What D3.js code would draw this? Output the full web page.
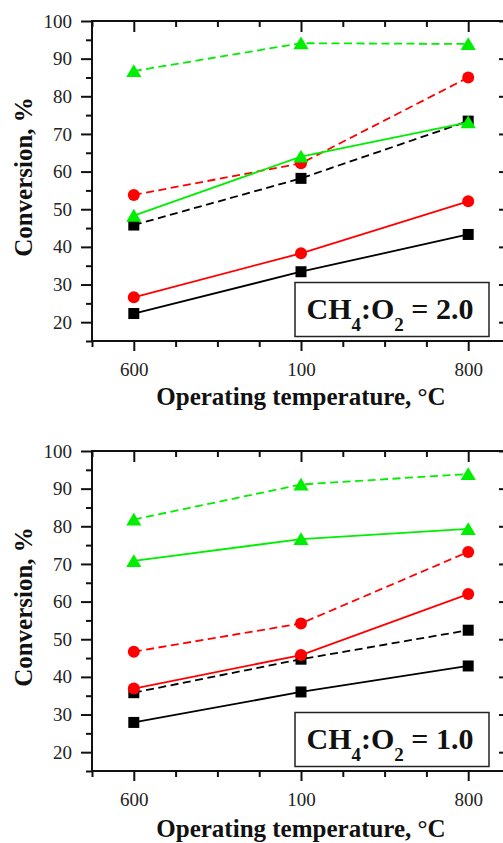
<!DOCTYPE html>
<html>
<head>
<meta charset="utf-8">
<script src="https://cdn.jsdelivr.net/npm/d3@7"></script>
<style>
  body { margin: 0; background: #fff; }
  svg { display: block; }
</style>
</head>
<body>
<div id="chart"></div>
<script>
// x categories (operating temperature tick labels, as printed)
const temps = ["600", "100", "800"];
const yTicks = [20, 30, 40, 50, 60, 70, 80, 90, 100];

// panel 1 : CH4:O2 = 2.0
const p1BlackSolid = [22.3, 33.4, 43.3];
const p1BlackDash  = [45.8, 58.2, 73.4];
const p1RedSolid   = [26.6, 38.3, 52.1];
const p1RedDash    = [53.8, 62.2, 85.0];
const p1GreenSolid = [48.3, 64.0, 73.1];
const p1GreenDash  = [86.7, 94.1, 93.9];

// panel 2 : CH4:O2 = 1.0
const p2BlackSolid = [27.9, 36.0, 42.9];
const p2BlackDash  = [35.8, 44.7, 52.4];
const p2RedSolid   = [36.9, 45.8, 62.0];
const p2RedDash    = [46.7, 54.2, 73.2];
const p2GreenSolid = [70.8, 76.6, 79.3];
const p2GreenDash  = [81.8, 91.1, 93.9];

const ratios = ["2.0", "1.0"];

const width = 503, height = 843;
const margin = {left: 92, right: 510};
const panelTops = [21, 451];
const panelH = 320;
const serif = "'Liberation Serif', 'Times New Roman', serif";

const svg = d3.select("#chart").append("svg")
    .attr("width", width)
    .attr("height", height);

// x: index scale, a quarter step of padding each side
const x = d3.scaleLinear().domain([-0.25, 2.25]).range([margin.left, margin.right]);

function trianglePath() {
    return "M0,-6.8L7.6,6L-7.6,6Z";
}

function drawPanel(top, series, ratio, titleY) {
    const y = d3.scaleLinear().domain([15, 100]).range([top + panelH, top]);
    const g = svg.append("g");

    const minorX = d3.range(-0.25, 2.26, 0.25).filter(d => Math.abs(d - Math.round(d)) > 0.01);
    const minorY = d3.range(15, 100, 10);

    // bottom axis, outward ticks
    g.append("g")
        .attr("transform", `translate(0,${top + panelH})`)
        .call(d3.axisBottom(x).tickValues([0, 1, 2]).tickFormat((d, i) => temps[i]).tickSize(10).tickPadding(12));
    g.append("g")
        .attr("transform", `translate(0,${top + panelH})`)
        .call(d3.axisBottom(x).tickValues(minorX).tickFormat("").tickSize(6));

    // top axis, inward ticks
    g.append("g")
        .attr("transform", `translate(0,${top})`)
        .call(d3.axisBottom(x).tickValues([0, 1, 2]).tickFormat("").tickSize(11));
    g.append("g")
        .attr("transform", `translate(0,${top})`)
        .call(d3.axisBottom(x).tickValues(minorX).tickFormat("").tickSize(6));

    // left axis, outward ticks
    g.append("g")
        .attr("transform", `translate(${margin.left},0)`)
        .call(d3.axisLeft(y).tickValues(yTicks).tickSize(11).tickPadding(9));
    g.append("g")
        .attr("transform", `translate(${margin.left},0)`)
        .call(d3.axisLeft(y).tickValues(minorY).tickFormat("").tickSize(6));

    // right axis, inward ticks
    g.append("g")
        .attr("transform", `translate(${margin.right},0)`)
        .call(d3.axisLeft(y).tickValues(yTicks).tickFormat("").tickSize(11));
    g.append("g")
        .attr("transform", `translate(${margin.right},0)`)
        .call(d3.axisLeft(y).tickValues(minorY).tickFormat("").tickSize(6));

    g.selectAll(".domain").remove();
    g.selectAll(".tick line").attr("stroke", "#111").attr("stroke-width", 2);
    g.selectAll(".tick text")
        .style("font-family", serif)
        .style("font-size", "19px")
        .attr("fill", "#222");

    // frame
    g.append("rect")
        .attr("x", margin.left)
        .attr("y", top)
        .attr("width", margin.right - margin.left)
        .attr("height", panelH)
        .attr("fill", "none")
        .attr("stroke", "#111")
        .attr("stroke-width", 2);

    const line = d3.line()
        .x((d, i) => x(i))
        .y(d => y(d));

    series.forEach(s => {
        g.append("path")
            .datum(s.values)
            .attr("fill", "none")
            .attr("stroke", s.color)
            .attr("stroke-width", 1.8)
            .attr("stroke-dasharray", s.dash ? "8,4.5" : null)
            .attr("d", line);

        const pts = g.selectAll(null).data(s.values).enter();
        if (s.shape === "square") {
            pts.append("rect")
                .attr("x", (d, i) => x(i) - 5.5)
                .attr("y", d => y(d) - 5.5)
                .attr("width", 11)
                .attr("height", 11)
                .attr("fill", s.color);
        } else if (s.shape === "circle") {
            pts.append("circle")
                .attr("cx", (d, i) => x(i))
                .attr("cy", d => y(d))
                .attr("r", 6)
                .attr("fill", s.color);
        } else {
            pts.append("path")
                .attr("d", trianglePath())
                .attr("transform", (d, i) => `translate(${x(i)},${y(d)})`)
                .attr("fill", s.color);
        }
    });

    // box label
    const bx = 295, by = top + 261.5;
    g.append("rect")
        .attr("x", bx)
        .attr("y", by)
        .attr("width", 194)
        .attr("height", 54)
        .attr("fill", "#fff")
        .attr("stroke", "#222")
        .attr("stroke-width", 1.5);

    const t = g.append("text")
        .attr("x", bx + 11.5)
        .attr("y", by + 36.5)
        .style("font-family", serif)
        .style("font-weight", "bold")
        .style("font-size", "30px")
        .attr("fill", "#111");
    t.append("tspan").text("CH");
    t.append("tspan").attr("dy", 12).style("font-size", "19px").text("4");
    t.append("tspan").attr("dy", -12).text(":O");
    t.append("tspan").attr("dy", 12).style("font-size", "19px").text("2");
    t.append("tspan").attr("dy", -12).text(" = " + ratio);

    // axis titles
    g.append("text")
        .attr("x", (margin.left + margin.right) / 2)
        .attr("y", titleY)
        .attr("text-anchor", "middle")
        .style("font-family", serif)
        .style("font-weight", "bold")
        .style("font-size", "25px")
        .attr("fill", "#111")
        .text("Operating temperature, °C");

    g.append("text")
        .attr("transform", `translate(32,${top + panelH / 2 - 4}) rotate(-90)`)
        .attr("text-anchor", "middle")
        .style("font-family", serif)
        .style("font-weight", "bold")
        .style("font-size", "25px")
        .attr("fill", "#111")
        .text("Conversion, %");
}

const black = "#000000", red = "#ff0000", green = "#00ee00";

drawPanel(panelTops[0], [
    {values: p1BlackSolid, color: black, dash: false, shape: "square"},
    {values: p1BlackDash, color: black, dash: true, shape: "square"},
    {values: p1RedSolid, color: red, dash: false, shape: "circle"},
    {values: p1RedDash, color: red, dash: true, shape: "circle"},
    {values: p1GreenSolid, color: green, dash: false, shape: "triangle"},
    {values: p1GreenDash, color: green, dash: true, shape: "triangle"}
], ratios[0], 405);

drawPanel(panelTops[1], [
    {values: p2BlackSolid, color: black, dash: false, shape: "square"},
    {values: p2BlackDash, color: black, dash: true, shape: "square"},
    {values: p2RedSolid, color: red, dash: false, shape: "circle"},
    {values: p2RedDash, color: red, dash: true, shape: "circle"},
    {values: p2GreenSolid, color: green, dash: false, shape: "triangle"},
    {values: p2GreenDash, color: green, dash: true, shape: "triangle"}
], ratios[1], 837);
</script>
</body>
</html>
